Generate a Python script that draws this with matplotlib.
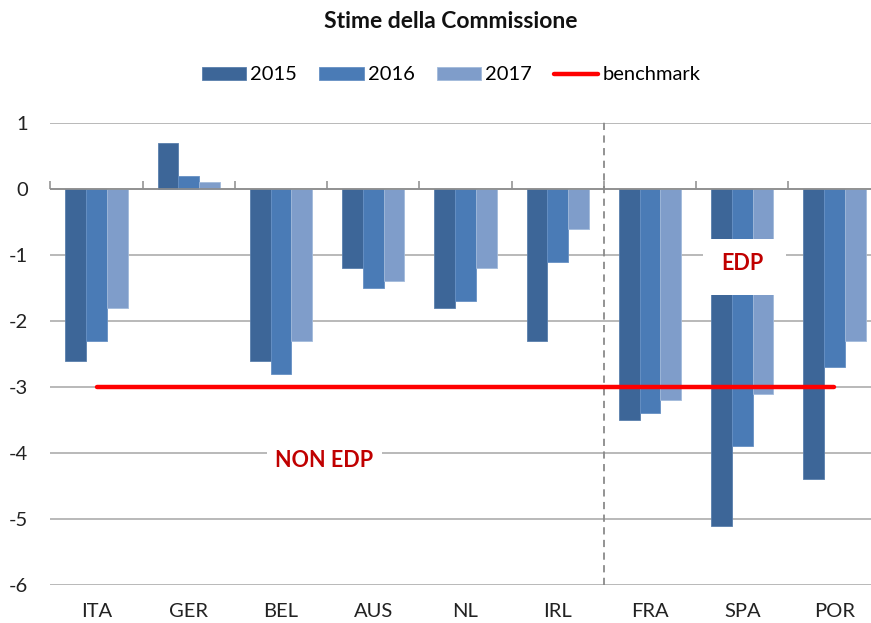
import matplotlib
matplotlib.use("Agg")
import matplotlib.pyplot as plt
from matplotlib.patches import Rectangle
import numpy as np

plt.rcParams["font.family"] = ["Lato", "DejaVu Sans"]

# -- data ---------------------------------------------------------------------
COUNTRIES = ["ITA", "GER", "BEL", "AUS", "NL", "IRL", "FRA", "SPA", "POR"]
Y2015 = [-2.6, 0.7, -2.6, -1.2, -1.8, -2.3, -3.5, -5.1, -4.4]
Y2016 = [-2.3, 0.2, -2.8, -1.5, -1.7, -1.1, -3.4, -3.9, -2.7]
Y2017 = [-1.8, 0.1, -2.3, -1.4, -1.2, -0.6, -3.2, -3.1, -2.3]
BENCHMARK = [-3.0] * len(COUNTRIES)
SERIES_LABELS = ["2015", "2016", "2017"]
YTICKS = [1, 0, -1, -2, -3, -4, -5, -6]

COLORS = ["#3D6698", "#4A7BB6", "#7F9DCA"]
EDGE = ["#5A7FAC", "#6690C4", "#A2BADB"]
GRID = "#A6A6A6"
RED_TXT = "#C00000"

W, H = 871, 623
fig = plt.figure(figsize=(W / 100, H / 100), dpi=100)
ax = fig.add_axes([50.4 / W, 1 - 585 / H, 830.2 / W, 462 / H])

x = np.arange(len(COUNTRIES))
bw = 0.225
for i, (vals, lab) in enumerate(zip([Y2015, Y2016, Y2017], SERIES_LABELS)):
    ax.bar(x + (i - 1) * bw, vals, width=bw, color=COLORS[i],
           edgecolor=EDGE[i], linewidth=0.6, label=lab, zorder=3)

ax.plot(x, BENCHMARK, color="#FF0000", linewidth=3.2, label="benchmark",
        zorder=6, solid_capstyle="round")

ax.set_xlim(-0.5, len(COUNTRIES) - 0.5)
ax.set_ylim(-6, 1)
ax.set_yticks(YTICKS)
ax.set_yticklabels([str(v) for v in YTICKS])
ax.yaxis.grid(True, color=GRID, linewidth=1.1, zorder=0)
ax.set_axisbelow(True)
ax.axhline(0, color="#8C8C8C", linewidth=1.2, zorder=4)
for s in ax.spines.values():
    s.set_visible(False)
ax.tick_params(axis="y", length=0, pad=16, labelsize=14.5, labelcolor="#222222")
ax.set_xticks(x)
ax.set_xticklabels(COUNTRIES)
ax.tick_params(axis="x", length=0, pad=13, labelsize=14.5, labelcolor="#222222")

# boundary tick marks on the zero line
sec = ax.secondary_xaxis(6 / 7)
sec.set_xticks(np.arange(len(COUNTRIES) + 1) - 0.5)
sec.set_xticklabels([])
sec.tick_params(axis="x", direction="out", length=6, width=1.1, color="#8C8C8C")
sec.spines["bottom"].set_visible(False)
sec.spines["top"].set_visible(False)

# EDP / NON EDP separator
ax.plot([5.5, 5.5], [-6, 1.08], color="#8A8A8A", linewidth=1.3,
        linestyle=(0, (4, 3)), clip_on=False, zorder=5)

# label boxes
spa = COUNTRIES.index("SPA")
ax.add_patch(Rectangle((spa - 0.42, -1.61), 0.89, 0.85, facecolor="white",
                       edgecolor="none", zorder=7))
ax.text(spa, -1.13, "EDP", color=RED_TXT, fontsize=15.5, fontweight="bold",
        ha="center", va="center", zorder=8)
ax.text(2.47, -4.12, "NON EDP", color=RED_TXT, fontsize=15.5, fontweight="bold",
        ha="center", va="center", zorder=8,
        bbox=dict(facecolor="white", edgecolor="none", pad=6))

fig.text(0.517, 1 - 22 / H, "Stime della Commissione", ha="center",
         va="center", fontsize=16.5, fontweight="bold", color="#111111")

handles, labels = ax.get_legend_handles_labels()
handles = handles[1:] + handles[:1]
labels = labels[1:] + labels[:1]
fig.legend(handles, labels, loc="center", bbox_to_anchor=(0.518, 1 - 75 / H),
           ncol=4, frameon=False, fontsize=14.5, handlelength=2.2,
           handleheight=0.6, columnspacing=1.1, handletextpad=0.2)

fig.savefig("out.png", dpi=100, facecolor="white")
